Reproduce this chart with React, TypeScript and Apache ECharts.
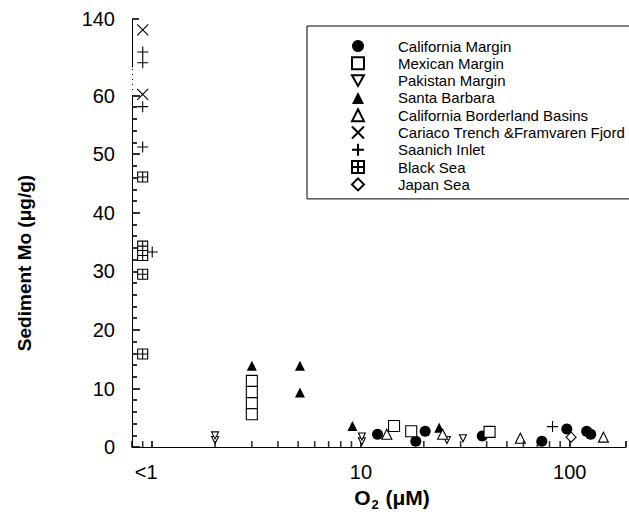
import React, { useEffect, useRef } from "react";
import * as echarts from "echarts";

// ---- data: [O2 (µM), sediment Mo (µg/g)] ----
const CALIFORNIA_MARGIN = [[12.0, 2.2], [18.3, 1.0], [20.3, 2.7], [38.1, 1.9], [73.5, 1.0], [96.8, 3.1], [120.5, 2.7], [126, 2.2]];
const MEXICAN_MARGIN = [[3, 11.3], [3, 9.4], [3, 7.5], [3, 5.6], [14.4, 3.6], [17.4, 2.7], [41.3, 2.6]];
const PAKISTAN_MARGIN = [[2, 1.2], [2, 2.0], [10.1, 1.0], [10.1, 1.8], [25.8, 1.2], [30.8, 1.5]];
const SANTA_BARBARA = [[3, 13.9], [5.1, 13.9], [5.1, 9.3], [9.1, 3.6], [23.7, 3.3]];
const BORDERLAND_BASINS = [[13.3, 2.2], [24.6, 2.2], [58, 1.5], [145, 1.7]];
const CARIACO_FRAMVAREN = [[0.9, 138.2], [0.9, 60.2]];
const SAANICH_INLET = [[0.9, 134.5], [0.9, 132.7], [0.9, 58.1], [0.9, 51.2], [1.0, 33.3], [82.7, 3.5]];
const BLACK_SEA = [[0.9, 46.1], [0.9, 34.3], [0.9, 32.7], [0.9, 29.5], [0.9, 15.9]];
const JAPAN_SEA = [[101.5, 1.7]];

const X_MINOR_TICKS = [0.9, 2, 3, 4, 5, 6, 7, 8, 9, 20, 30, 40, 50, 60, 70, 80, 90];
const X_LABELS = [1, 10, 100];
const Y_UPPER_LABELS = [140];
const BREAK_AT = 100; // values above go to the upper (broken) segment

const FONT = '"Liberation Sans", Arial, Helvetica, sans-serif';

type Def = { name: string; data: number[][]; symbol: string; size: number; fill: string; bw?: number };

const DEFS: Def[] = [
  { name: "California Margin", data: CALIFORNIA_MARGIN, symbol: "circle", size: 11, fill: "#000", bw: 0 },
  { name: "Mexican Margin", data: MEXICAN_MARGIN, symbol: "rect", size: 11, fill: "#fff" },
  { name: "Pakistan Margin", data: PAKISTAN_MARGIN, symbol: "path://M0,0L10,0L5,9Z", size: 7, fill: "#fff" },
  { name: "Santa Barbara", data: SANTA_BARBARA, symbol: "triangle", size: 10, fill: "#000", bw: 0 },
  { name: "California Borderland Basins", data: BORDERLAND_BASINS, symbol: "triangle", size: 10, fill: "#fff" },
  { name: "Cariaco Trench &Framvaren Fjord", data: CARIACO_FRAMVAREN, symbol: "path://M0,0L10,10M10,0L0,10", size: 11, fill: "transparent" },
  { name: "Saanich Inlet", data: SAANICH_INLET, symbol: "path://M5,0L5,10M0,5L10,5", size: 11, fill: "transparent" },
  { name: "Black Sea", data: BLACK_SEA, symbol: "path://M0,0L10,0L10,10L0,10ZM5,0L5,10M0,5L10,5", size: 10, fill: "#fff" },
  { name: "Japan Sea", data: JAPAN_SEA, symbol: "diamond", size: 10, fill: "#fff" },
];

function makeSeries(d: Def, upper: boolean) {
  const pts = d.data.filter((p) => (upper ? p[1] > BREAK_AT : p[1] <= BREAK_AT));
  return {
    type: "scatter",
    name: d.name,
    data: pts,
    xAxisIndex: upper ? 1 : 0,
    yAxisIndex: upper ? 1 : 0,
    symbol: d.symbol,
    symbolSize: d.size,
    clip: false,
    silent: true,
    itemStyle: { color: d.fill, borderColor: "#000", borderWidth: d.bw === undefined ? 1.1 : d.bw, opacity: 1 },
    z: 3,
  };
}

const NO = { show: false };

export default function App() {
  const ref = useRef<HTMLDivElement>(null);
  useEffect(() => {
    if (!ref.current) return;
    const chart = echarts.init(ref.current, null, { renderer: "svg" });
    const series: any[] = [];
    DEFS.forEach((d) => {
      series.push(makeSeries(d, false));
      if (d.data.some((p) => p[1] > BREAK_AT)) series.push(makeSeries(d, true));
    });
    series.push({
      type: "scatter",
      name: "minorTicks",
      data: X_MINOR_TICKS.map((v) => [v, 0]),
      xAxisIndex: 0,
      yAxisIndex: 0,
      symbol: "rect",
      symbolSize: [1.6, 6],
      symbolOffset: [0, -3],
      clip: false,
      silent: true,
      itemStyle: { color: "#000", borderWidth: 0 },
      z: 5,
    });

    const labelStyle = { fontSize: 20, fontFamily: FONT, color: "#000" };
    const axisLine = { show: true, onZero: false, lineStyle: { color: "#000", width: 1 } };
    const tickLine = { color: "#000", width: 1.6 };

    chart.setOption({
      animation: false,
      backgroundColor: "#fff",
      grid: [
        { left: 132, top: 95.5, width: 497, height: 357.5 },
        { left: 132, top: 19, width: 497, height: 48 },
      ],
      xAxis: [
        {
          type: "log",
          gridIndex: 0,
          min: 0.8,
          max: 186,
          logBase: 10,
          splitLine: NO,
          axisLine,
          axisTick: { show: true, inside: true, length: 6, lineStyle: tickLine },
          axisLabel: {
            ...labelStyle,
            margin: 15,
            showMinLabel: true,
            showMaxLabel: true,
            formatter: (v: number) => {
              if (Math.abs(v - X_LABELS[0]) < 1e-6) return "{lt|<1}";
              if (X_LABELS.slice(1).some((t) => Math.abs(v - t) < 1e-6)) return String(Math.round(v));
              return "";
            },
            rich: { lt: { ...labelStyle, padding: [0, 12, 0, 0] } },
          },
          name: "{a|O}{s|2}{a| (μM)}",
          nameLocation: "middle",
          nameGap: 36,
          nameTextStyle: {
            padding: [0, 0, 0, 26],
            rich: {
              a: { fontSize: 21, fontWeight: "bold", fontFamily: FONT, color: "#000" },
              s: { fontSize: 13, fontWeight: "bold", fontFamily: FONT, color: "#000", padding: [14, 1, 0, 1] },
            },
          },
        },
        { type: "log", gridIndex: 1, min: 0.8, max: 186, logBase: 10, show: false },
      ],
      yAxis: [
        {
          type: "value",
          gridIndex: 0,
          min: 0,
          max: 60,
          interval: 10,
          splitLine: NO,
          minorSplitLine: NO,
          axisLine,
          axisTick: { show: true, inside: true, length: 8, lineStyle: tickLine },
          minorTick: { show: true, splitNumber: 5, length: 5, lineStyle: tickLine },
          axisLabel: { ...labelStyle, margin: 17 },
        },
        {
          type: "value",
          gridIndex: 1,
          min: 132,
          max: 140,
          interval: 4,
          splitLine: NO,
          axisLine,
          axisTick: { show: true, inside: true, length: 7, customValues: Y_UPPER_LABELS, lineStyle: tickLine },
          axisLabel: {
            ...labelStyle,
            margin: 17,
            customValues: Y_UPPER_LABELS,
            formatter: (v: number) => (Y_UPPER_LABELS.includes(v) ? String(v) : ""),
          },
        },
      ],
      legend: {
        orient: "vertical",
        left: 307,
        top: 26,
        padding: [12.5, 14, 7, 44],
        itemWidth: 12,
        itemHeight: 12,
        itemGap: 2.3,
        borderColor: "#000",
        borderWidth: 1,
        selectedMode: false,
        textStyle: { fontSize: 15, fontFamily: FONT, color: "#000", padding: [0, 0, 0, 29] },
        data: DEFS.map((d) => d.name),
      },
      graphic: [
        {
          type: "line",
          shape: { x1: 132.5, y1: 69, x2: 132.5, y2: 94 },
          style: { stroke: "#000", lineWidth: 1, lineDash: [1, 4] },
          silent: true,
        },
        {
          type: "text",
          x: 24,
          y: 263,
          rotation: Math.PI / 2,
          style: {
            text: "Sediment Mo (μg/g)",
            align: "center",
            verticalAlign: "middle",
            fontSize: 19,
            fontWeight: "bold",
            fontFamily: FONT,
            fill: "#000",
          },
          silent: true,
        },
      ],
      series,
    });
    return () => chart.dispose();
  }, []);
  return <div ref={ref} style={{ position: "fixed", left: 0, top: 0, width: 629, height: 516 }} />;
}
